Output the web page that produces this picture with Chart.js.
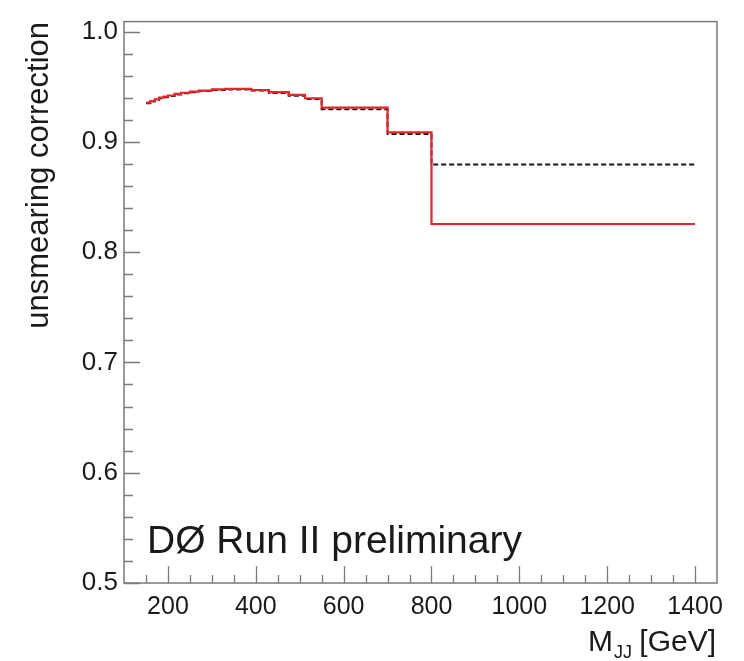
<!DOCTYPE html>
<html>
<head>
<meta charset="utf-8">
<script src="https://cdn.jsdelivr.net/npm/chart.js@4.4.0/dist/chart.umd.min.js"></script>
<style>
  html, body { margin: 0; padding: 0; background: #fff; }
  #wrap { width: 744px; height: 661px; }
</style>
</head>
<body>
<div id="wrap"><canvas id="unsmearChart" width="744" height="661"></canvas></div>
<script>
// bin low edges (GeV), last entry is the upper edge of the final bin
const binEdges = [150, 160, 170, 180, 190, 200, 215, 230, 250, 270, 300, 330, 360, 390, 430, 475, 512, 550, 700, 800, 1400];
// red solid histogram
const corrSolid = [0.9355, 0.937, 0.9385, 0.940, 0.941, 0.942, 0.9435, 0.9445, 0.9455, 0.9465, 0.9475, 0.948, 0.948, 0.947, 0.945, 0.9425, 0.9395, 0.931, 0.9085, 0.8255];
// black dashed histogram
const corrDashed = [0.935, 0.9365, 0.938, 0.9395, 0.9405, 0.9415, 0.943, 0.944, 0.945, 0.946, 0.947, 0.9475, 0.9475, 0.9465, 0.9443, 0.9418, 0.9388, 0.9295, 0.907, 0.8795];

const xTicks = [200, 400, 600, 800, 1000, 1200, 1400];
const yTicks = [0.5, 0.6, 0.7, 0.8, 0.9, 1.0];

const FONT = "'Liberation Sans', Arial, sans-serif";
const FRAME = "#7a7a7a";

// turn bin contents into step points for the library
function toSteps(values) {
    const pts = values.map((v, i) => ({ x: binEdges[i], y: v }));
    pts.push({ x: binEdges[binEdges.length - 1], y: values[values.length - 1] });
    return pts;
}

// frame, inward tick marks and free text, ROOT style
const rootFrame = {
    id: "rootFrame",
    afterDraw(chart) {
        const { ctx, chartArea: a, scales } = chart;
        const xs = scales.x, ys = scales.y;
        ctx.save();
        ctx.strokeStyle = FRAME;
        ctx.lineWidth = 1.5;
        ctx.strokeRect(a.left, a.top, a.right - a.left, a.bottom - a.top);

        ctx.lineWidth = 1.3;
        ctx.beginPath();
        // y ticks, minor every 0.02
        for (let k = 25; k <= 50; k++) {
            const v = k * 0.02;
            const py = Math.round(ys.getPixelForValue(v)) + 0.5;
            const len = (k % 5 === 0) ? 16 : 9;
            ctx.moveTo(a.left, py);
            ctx.lineTo(a.left + len, py);
        }
        // x ticks, minor every 50
        for (let v = 150; v <= 1400; v += 50) {
            const px = Math.round(xs.getPixelForValue(v)) + 0.5;
            const len = (v % 200 === 0) ? 17 : 8;
            ctx.moveTo(px, a.bottom);
            ctx.lineTo(px, a.bottom - len);
        }
        ctx.stroke();

        ctx.fillStyle = "#1a1a1a";
        // y title
        ctx.save();
        ctx.translate(48, 22);
        ctx.rotate(-Math.PI / 2);
        ctx.font = "31px " + FONT;
        ctx.textAlign = "right";
        ctx.textBaseline = "alphabetic";
        ctx.fillText("unsmearing correction", 0, 0);
        ctx.restore();

        // x title with subscript
        ctx.textBaseline = "alphabetic";
        ctx.textAlign = "left";
        ctx.font = "30px " + FONT;
        const tail = " [GeV]";
        const wTail = ctx.measureText(tail).width;
        const wM = ctx.measureText("M").width;
        ctx.font = "18px " + FONT;
        const wSub = ctx.measureText("JJ").width;
        let x0 = 716 - wTail - wSub - wM;
        ctx.font = "30px " + FONT;
        ctx.fillText("M", x0, 651);
        ctx.font = "18px " + FONT;
        ctx.fillText("JJ", x0 + wM + 1, 658);
        ctx.font = "30px " + FONT;
        ctx.fillText(tail, x0 + wM + wSub, 651);

        // experiment label
        ctx.font = "39px " + FONT;
        ctx.fillText("D\u00d8 Run II preliminary", 147, 553);
        ctx.restore();
    }
};

const chart = new Chart(document.getElementById("unsmearChart").getContext("2d"), {
    type: "line",
    data: {
        datasets: [
            {
                label: "solid",
                data: toSteps(corrSolid),
                stepped: "before",
                borderColor: "#e8232b",
                borderWidth: 2.2,
                pointRadius: 0,
                fill: false,
            },
            {
                label: "dashed",
                data: toSteps(corrDashed),
                stepped: "before",
                borderColor: "#151515",
                borderWidth: 2,
                borderDash: [5, 3],
                pointRadius: 0,
                fill: false,
            },
        ],
    },
    options: {
        responsive: false,
        animation: false,
        devicePixelRatio: 1,
        layout: { padding: { top: 10, right: 27, left: 0, bottom: 0 } },
        plugins: {
            legend: { display: false },
            tooltip: { enabled: false },
        },
        scales: {
            x: {
                type: "linear",
                min: 100,
                max: 1450,
                grid: { display: false, drawTicks: false },
                border: { display: false },
                afterBuildTicks: (s) => { s.ticks = xTicks.map((v) => ({ value: v })); },
                afterFit: (s) => { s.height = 78; },
                ticks: {
                    padding: 9,
                    color: "#1a1a1a",
                    font: { family: FONT, size: 25 },
                    maxRotation: 0,
                    callback: (v) => String(v),
                },
            },
            y: {
                type: "linear",
                min: 0.5,
                max: 1.009,
                grid: { display: false, drawTicks: false },
                border: { display: false },
                afterBuildTicks: (s) => { s.ticks = yTicks.map((v) => ({ value: v })); },
                afterFit: (s) => { s.width = 124; },
                ticks: {
                    padding: 6,
                    color: "#1a1a1a",
                    font: { family: FONT, size: 26 },
                    callback: (v) => Number(v).toFixed(1),
                },
            },
        },
    },
    plugins: [rootFrame],
});
</script>
</body>
</html>
